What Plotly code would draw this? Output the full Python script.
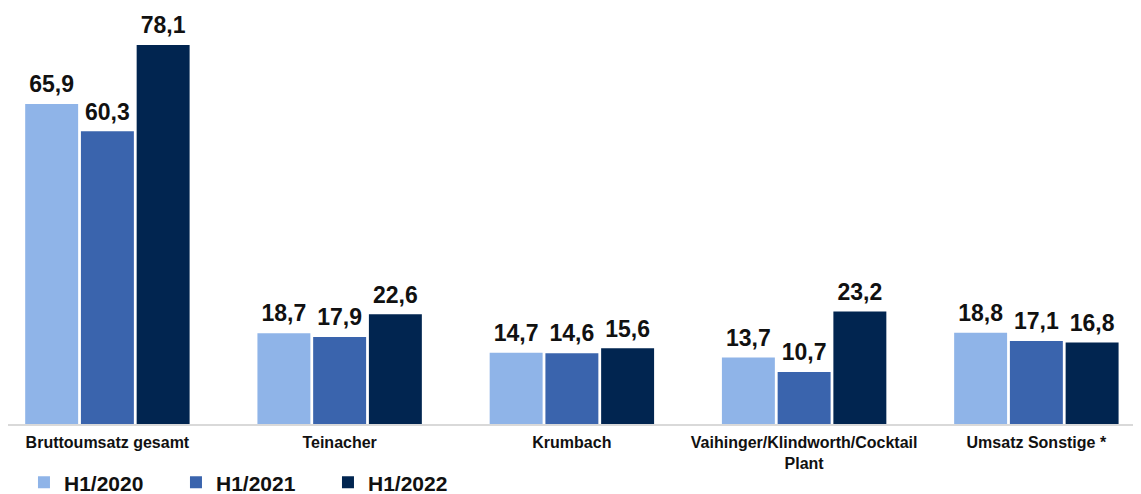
import plotly.graph_objects as go

categories = ["Bruttoumsatz gesamt", "Teinacher", "Krumbach",
              "Vaihinger/Klindworth/Cocktail<br>Plant", "Umsatz Sonstige *"]
series_names = ["H1/2020", "H1/2021", "H1/2022"]
h1_2020 = [65.9, 18.7, 14.7, 13.7, 18.8]
h1_2021 = [60.3, 17.9, 14.6, 10.7, 17.1]
h1_2022 = [78.1, 22.6, 15.6, 23.2, 16.8]
colors = ["#8fb4e8", "#3a64ad", "#012550"]

fig = go.Figure()
xs = list(range(len(categories)))
for j, (name, vals, col) in enumerate(zip(series_names, [h1_2020, h1_2021, h1_2022], colors)):
    fig.add_trace(go.Bar(
        name=name, x=xs, y=vals, offsetgroup=str(j),
        marker=dict(color=col, line=dict(width=0)),
    ))
for j, (name, vals) in enumerate(zip(series_names, [h1_2020, h1_2021, h1_2022])):
    fig.add_trace(go.Scatter(
        x=xs, y=vals, offsetgroup=str(j), mode="markers+text", showlegend=False,
        marker=dict(size=8, color="rgba(0,0,0,0)"),
        text=[f"{v:.1f}".replace(".", ",") for v in vals],
        textposition="top center", hoverinfo="skip", cliponaxis=False,
        textfont=dict(family="Liberation Sans", size=23, color="#111111", weight="bold"),
    ))

fig.update_layout(
    width=1141, height=494,
    margin=dict(l=0, r=0, t=0, b=78, autoexpand=False),
    barmode="group", bargap=0.28, bargroupgap=0.05,
    scattermode="group", scattergap=0.28,
    plot_bgcolor="white", paper_bgcolor="white",
    legend=dict(orientation="h", x=0.014, y=-0.141, xanchor="left", yanchor="middle",
                font=dict(family="Liberation Sans", size=21, color="#111111", weight="bold"),
                entrywidth=107, entrywidthmode="pixels", itemwidth=30,
                tracegroupgap=0, bgcolor="rgba(0,0,0,0)"),
    xaxis=dict(tickmode="array", tickvals=xs, ticktext=categories,
               range=[-0.428, 4.485], showgrid=False, showline=True, linecolor="#d9d9d9",
               linewidth=2, ticks="", zeroline=False, ticklabelstandoff=3,
               tickfont=dict(family="Liberation Sans", size=16, color="#111111", weight="bold")),
    yaxis=dict(range=[0, 85.7], visible=False, showgrid=False, zeroline=False),
)
fig.write_html("out.html")
